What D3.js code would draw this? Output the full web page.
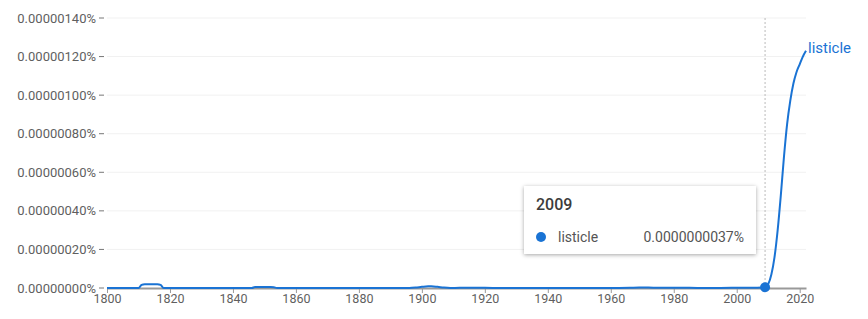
<!DOCTYPE html>
<html>
<head>
<meta charset="utf-8">
<script src="https://cdn.jsdelivr.net/npm/d3@7"></script>
<style>
  body { margin: 0; background: #fff; font-family: Roboto, "Noto Sans", sans-serif; }
  #chart { position: relative; width: 868px; height: 319px; }
  .tip {
    position: absolute; left: 524px; top: 186px; width: 232px; height: 68px;
    background: #fff; box-shadow: 0 1px 4px rgba(0,0,0,0.35); box-sizing: border-box;
  }
  .tip .yr { position: absolute; left: 12px; top: 9px; font-size: 16px; font-weight: 500; color: #3c3c3c; }
  .tip .dot { position: absolute; left: 12px; top: 46px; width: 10px; height: 10px; border-radius: 50%; background: #1a73d4; }
  .tip .nm { position: absolute; left: 34px; top: 43px; font-size: 14px; color: #555; }
  .tip .val { position: absolute; right: 12px; top: 43px; font-size: 14px; color: #555; }
</style>
</head>
<body>
<div id="chart"></div>
<script>
// years and values (in percent)
const term = "listicle";
const years = [1800, 1808, 1810, 1811, 1812, 1816, 1817, 1818, 1820, 1845, 1846, 1847, 1852, 1853, 1854, 1860,
  1896, 1898, 1900, 1902, 1903, 1905, 1907, 1909, 1912, 1916, 1920, 1925, 1960, 1966, 1969, 1972, 1975, 1980, 1985, 1990, 2000, 2005, 2008,
  2009, 2010, 2011, 2012, 2013, 2014, 2015, 2016, 2017, 2018, 2019, 2020, 2021, 2022];
const values = [0, 0, 0, 0.000000016, 0.00000002, 0.00000002, 0.000000016, 0, 0, 0, 0, 0.000000005, 0.000000005, 0.000000004, 0, 0,
  0, 0.000000002, 0.000000006, 0.000000009, 0.000000009, 0.000000006, 0.000000002, 0, 0.000000001, 0.000000001, 0.000000001, 0, 0, 0.000000001, 0.000000002, 0.000000002, 0.000000001, 0.000000001, 0.000000001, 0, 0.000000001, 0.000000001, 0.000000002,
  0.0000000037, 0.00000002, 0.00000007, 0.00000016, 0.0000003, 0.00000048, 0.00000068, 0.00000085, 0.00000097, 0.00000106, 0.00000112, 0.00000116, 0.0000012, 0.00000123];
const yTicks = [0, 0.0000002, 0.0000004, 0.0000006, 0.0000008, 0.000001, 0.0000012, 0.0000014];
const xTicks = [1800, 1820, 1840, 1860, 1880, 1900, 1920, 1940, 1960, 1980, 2000, 2020];
const hoverYear = 2009;
const hoverLabel = "0.0000000037%";

const W = 868, H = 319;
const color = "#1a73d4";

const svg = d3.select("#chart").append("svg").attr("width", W).attr("height", H);

const x = d3.scaleLinear().domain([1800, 2022]).range([107, 806]);
const y = d3.scaleLinear().domain([0, 0.0000014]).range([288, 18]);

// gridlines
svg.append("g").selectAll("line").data(yTicks.slice(1)).enter().append("line")
  .attr("x1", 107).attr("x2", 806)
  .attr("y1", d => y(d)).attr("y2", d => y(d))
  .attr("stroke", "#f1f1f1").attr("stroke-width", 1);

// y axis labels + tick dashes
const yg = svg.append("g");
yg.selectAll("text").data(yTicks).enter().append("text")
  .attr("x", 96).attr("y", d => y(d)).attr("dy", "0.35em")
  .attr("text-anchor", "end").attr("font-size", 13).attr("fill", "#5f5f5f")
  .text(d => d3.format(".8f")(d) + "%");
yg.selectAll("line").data(yTicks).enter().append("line")
  .attr("x1", 99).attr("x2", 104).attr("y1", d => y(d)).attr("y2", d => y(d))
  .attr("stroke", "#777").attr("stroke-width", 1);

// x axis
const xAxis = d3.axisBottom(x).tickValues(xTicks).tickFormat(d3.format("d")).tickSize(5).tickSizeOuter(0);
const xg = svg.append("g").attr("transform", "translate(0,288)").call(xAxis);
xg.select(".domain").attr("stroke", "#999").attr("stroke-width", 2);
xg.selectAll(".tick line").attr("stroke", "#999");
xg.selectAll(".tick text").attr("font-size", 12.5).attr("fill", "#5f5f5f")
  .attr("font-family", "Roboto, sans-serif").attr("dy", "0.55em");

// hover guide
svg.append("line")
  .attr("x1", x(hoverYear)).attr("x2", x(hoverYear)).attr("y1", 18).attr("y2", 288)
  .attr("stroke", "#bbb").attr("stroke-dasharray", "2,2");

// line
const data = years.map((yr, i) => ({ yr, v: values[i] }));
const line = d3.line().x(d => x(d.yr)).y(d => y(d.v)).curve(d3.curveMonotoneX);
svg.append("path").datum(data).attr("d", line)
  .attr("fill", "none").attr("stroke", color).attr("stroke-width", 2);

// end label
const last = data[data.length - 1];
svg.append("text").attr("x", x(last.yr) + 2).attr("y", y(last.v) - 3).attr("dy", "0.35em")
  .attr("font-size", 15).attr("fill", color).text(term);

// hover dot
const hv = data.find(d => d.yr === hoverYear);
svg.append("circle").attr("cx", x(hoverYear)).attr("cy", y(hv.v)).attr("r", 5).attr("fill", color);

// tooltip
const tip = d3.select("#chart").append("div").attr("class", "tip");
tip.append("div").attr("class", "yr").text(hoverYear);
tip.append("div").attr("class", "dot");
tip.append("div").attr("class", "nm").text(term);
tip.append("div").attr("class", "val").text(hoverLabel);
</script>
</body>
</html>
